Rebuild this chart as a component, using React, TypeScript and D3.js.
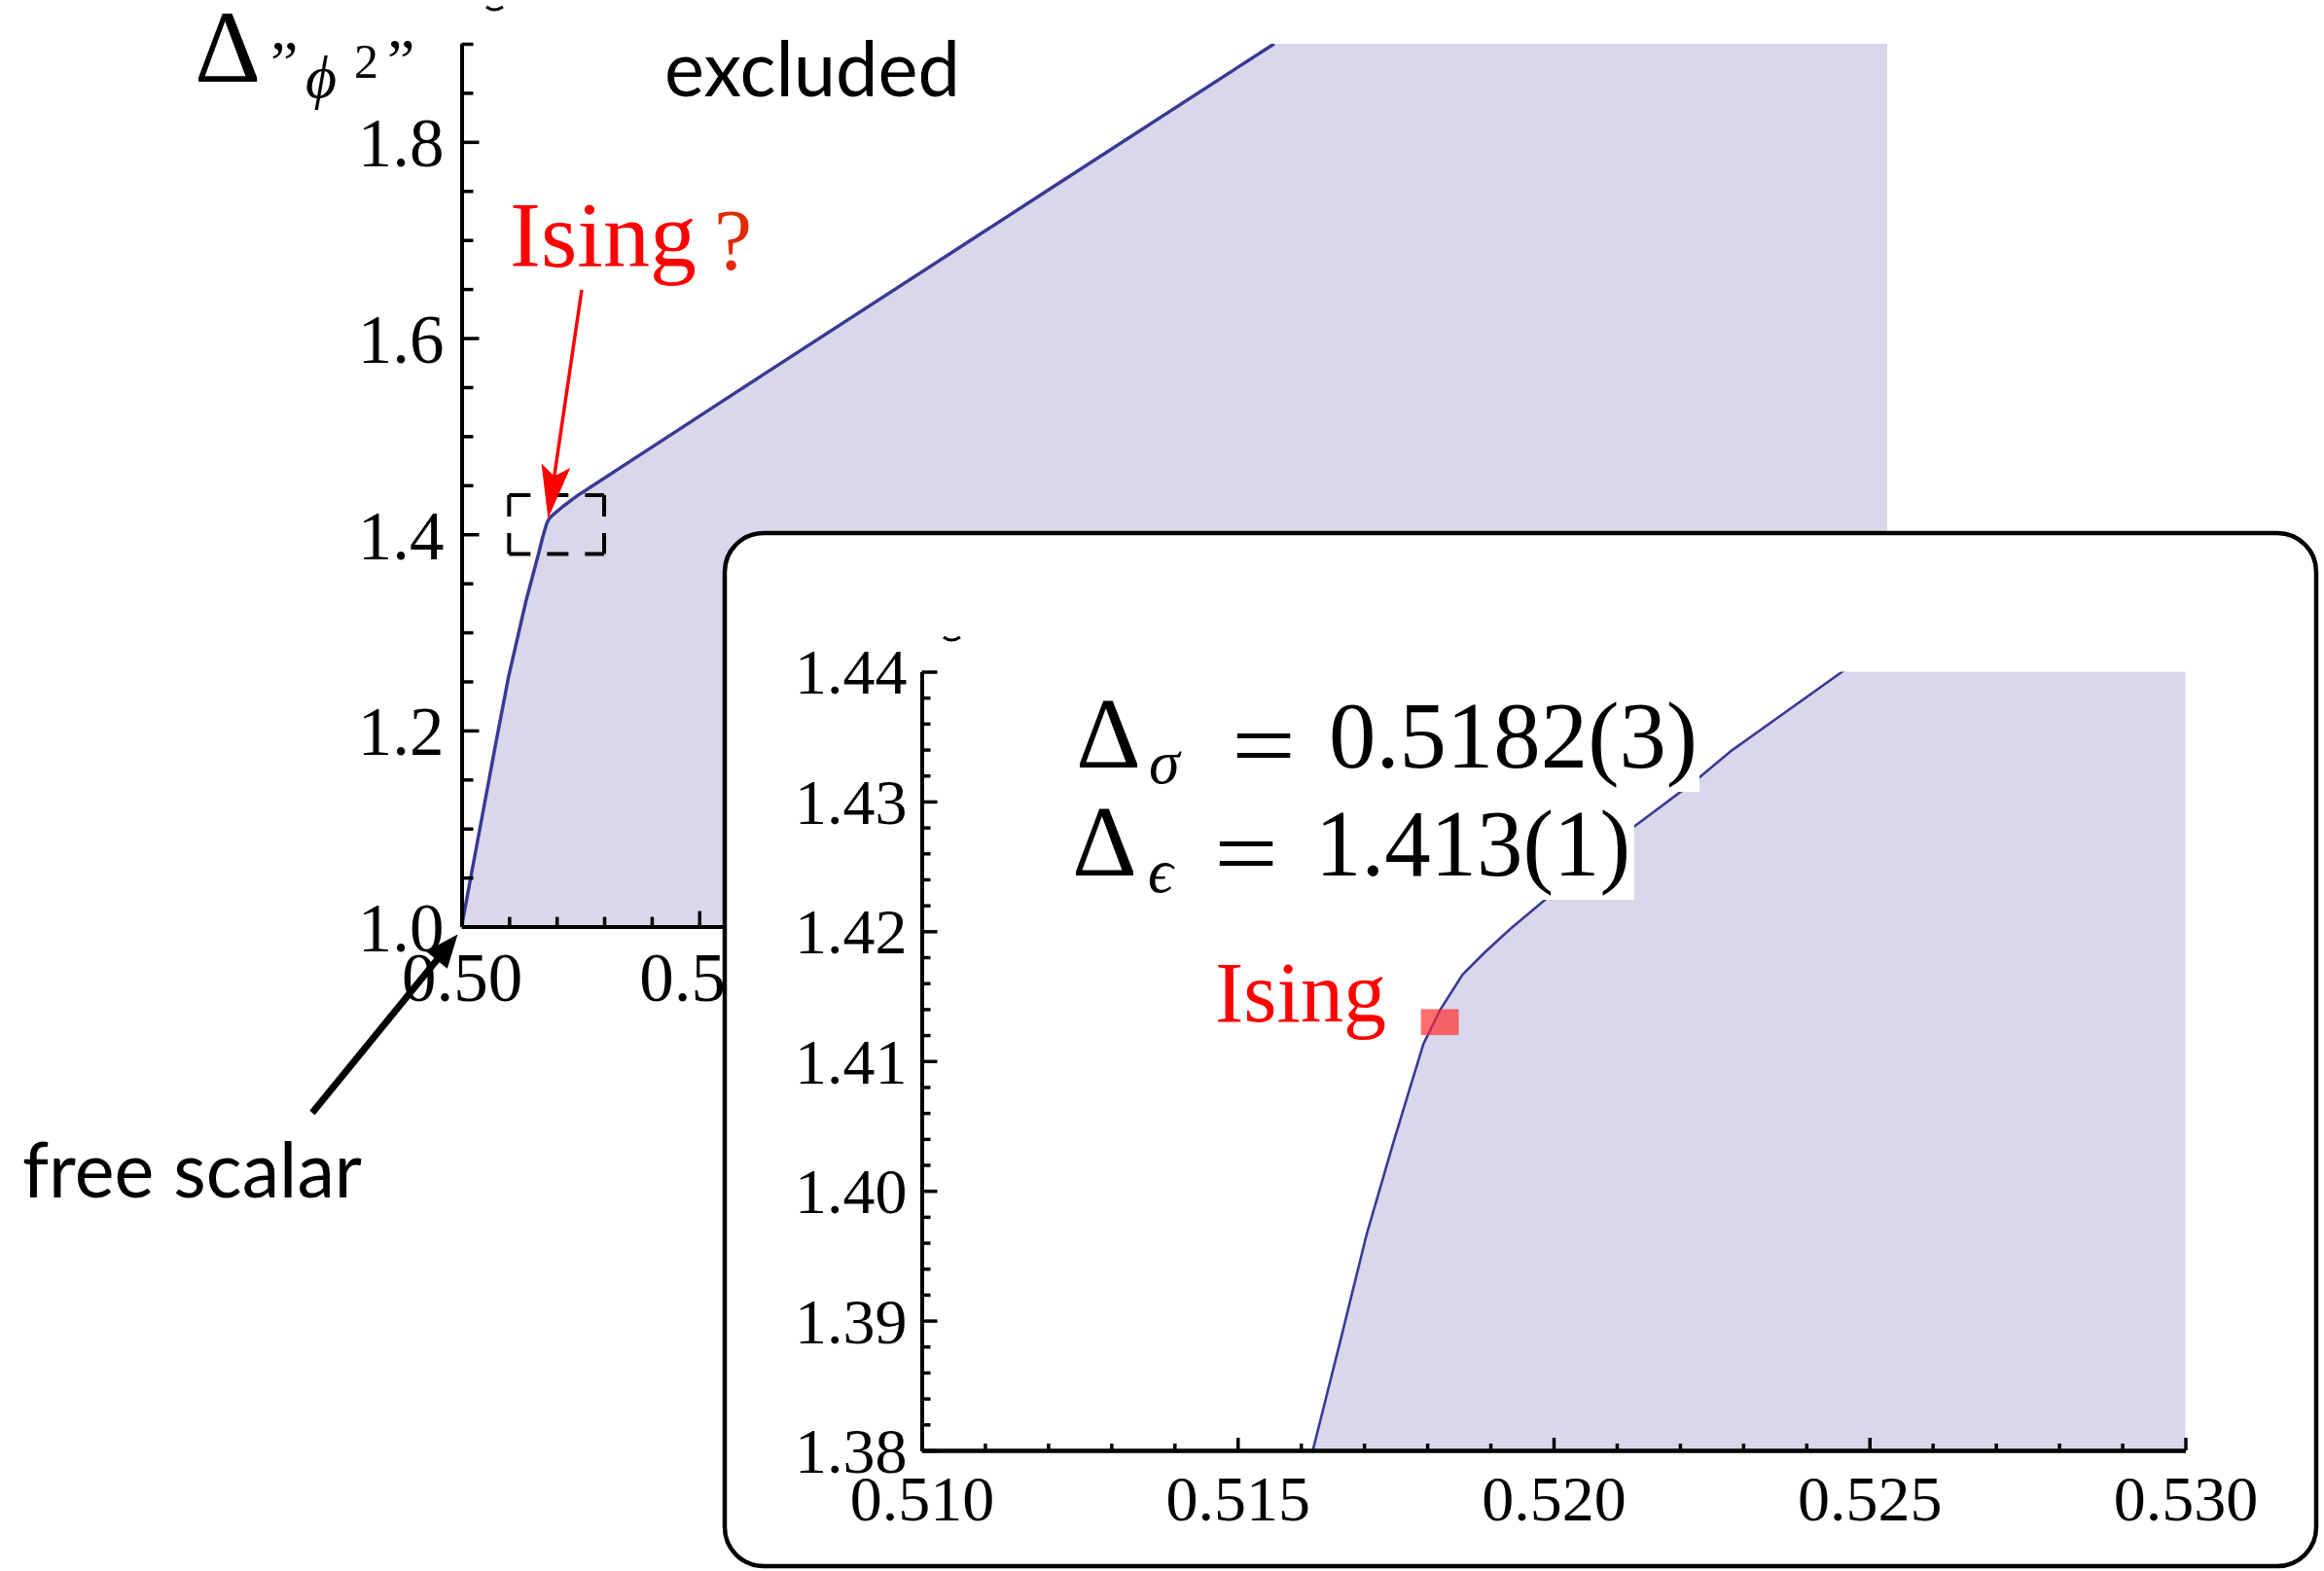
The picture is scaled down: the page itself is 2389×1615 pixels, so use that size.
import React, { useEffect, useRef } from 'react';
import * as d3 from 'd3';

// bootstrap bound in the (Δσ, Δε) plane
const boundarySigma = [0.5, 0.5025, 0.5073, 0.5099, 0.5135, 0.51619, 0.51662, 0.51704, 0.51746, 0.51773, 0.51794, 0.51821, 0.51856, 0.5189, 0.51931, 0.51986, 0.52126, 0.52227, 0.5228, 0.52457, 0.5634, 0.623, 0.671];
const boundaryEps = [1.0, 1.065, 1.1895, 1.255, 1.331, 1.38, 1.38833, 1.39661, 1.40363, 1.40797, 1.41131, 1.41398, 1.41666, 1.41832, 1.42016, 1.4224, 1.42801, 1.43169, 1.43386, 1.44, 1.5625, 1.7495, 1.9];

// Ising estimate with error bars
const isingSigma = 0.5182;
const isingSigmaErr = 0.0003;
const isingEps = 1.413;
const isingEpsErr = 0.001;

// main panel
const mainXDomain = [0.5, 0.8];
const mainYDomain = [1.0, 1.9];
const mainXMajor = [0.5, 0.55, 0.6, 0.65, 0.7, 0.75, 0.8];
const mainYMajor = [1.0, 1.2, 1.4, 1.6, 1.8];

// zoomed inset
const insetXDomain = [0.51, 0.53];
const insetYDomain = [1.38, 1.44];
const insetXMajor = [0.51, 0.515, 0.52, 0.525, 0.53];
const insetYMajor = [1.38, 1.39, 1.4, 1.41, 1.42, 1.43, 1.44];

const W = 2389;
const H = 1615;
const LINE = '#393996';
const FILL = '#d8d8ea';
const SERIF = 'Liberation Serif, Times New Roman, serif';
const SANS = 'Lato, Open Sans, sans-serif';

const notMajor = (majors: number[]) => (v: number) => !majors.some(m => Math.abs(m - v) < 1e-9);

const App: React.FC = () => {
  const svgRef = useRef<SVGSVGElement>(null);

  useEffect(() => {
    if (!svgRef.current) return;
    const svg = d3.select(svgRef.current);
    svg.selectAll('*').remove();

    const pts = boundarySigma.map((s, i) => [s, boundaryEps[i]] as [number, number]);
    const region = [...pts, [0.8, 1.9], [0.8, 1.0]] as [number, number][];

    const styleAxis = (g: any, fs: number) => {
      g.select('.domain').attr('stroke', '#000').attr('stroke-width', 4);
      g.selectAll('.tick line').attr('stroke', '#000').attr('stroke-width', 3.5);
      g.selectAll('text').attr('fill', '#000').style('font-family', SERIF).style('font-size', `${fs}px`);
    };

    const arrow = (x1: number, y1: number, x2: number, y2: number, color: string, sw: number, L: number, Wd: number, notch: number) => {
      const dx = x2 - x1, dy = y2 - y1;
      const len = Math.hypot(dx, dy);
      const ux = dx / len, uy = dy / len;
      const nx = -uy, ny = ux;
      svg.append('line')
        .attr('x1', x1).attr('y1', y1)
        .attr('x2', x2 - ux * L * 0.7).attr('y2', y2 - uy * L * 0.7)
        .attr('stroke', color).attr('stroke-width', sw);
      const bx = x2 - ux * L, by = y2 - uy * L;
      svg.append('path')
        .attr('d', `M${x2},${y2}L${bx + nx * Wd / 2},${by + ny * Wd / 2}L${x2 - ux * L * notch},${y2 - uy * L * notch}L${bx - nx * Wd / 2},${by - ny * Wd / 2}Z`)
        .attr('fill', color);
    };

    // ---------- main panel ----------
    const x = d3.scaleLinear().domain(mainXDomain).range([474.5, 1940]);
    const y = d3.scaleLinear().domain(mainYDomain).range([952.6, 45]);

    const defs = svg.append('defs');
    defs.append('clipPath').attr('id', 'clip-main').append('rect')
      .attr('x', x(0.5)).attr('y', y(1.9)).attr('width', x(0.8) - x(0.5)).attr('height', y(1.0) - y(1.9));

    const mainLine = d3.line<[number, number]>().x(d => x(d[0])).y(d => y(d[1]));
    const gMain = svg.append('g').attr('clip-path', 'url(#clip-main)');
    gMain.append('path').attr('d', mainLine(region) + 'Z').attr('fill', FILL);
    gMain.append('path').attr('d', mainLine(pts)).attr('fill', 'none').attr('stroke', LINE).attr('stroke-width', 3.5)
      .attr('stroke-linejoin', 'round');

    const mainYMinor = d3.range(1.0, 1.901, 0.05).filter(notMajor(mainYMajor));
    const mainXMinor = d3.range(0.5, 0.801, 0.01).filter(notMajor(mainXMajor));

    svg.append('g').attr('transform', `translate(${x(0.5)},0)`)
      .call(d3.axisLeft(y).tickValues(mainYMinor).tickSize(-12).tickSizeOuter(0).tickFormat(() => ''))
      .call(styleAxis, 71);
    svg.append('g').attr('transform', `translate(${x(0.5)},0)`)
      .call(d3.axisLeft(y).tickValues(mainYMajor).tickSize(-18).tickSizeOuter(0).tickPadding(18).tickFormat(d3.format('.1f')))
      .call(styleAxis, 71)
      .call((g: any) => g.selectAll('text').attr('dy', '0.35em'));

    svg.append('g').attr('transform', `translate(0,${y(1.0)})`)
      .call(d3.axisBottom(x).tickValues(mainXMinor).tickSize(-10).tickSizeOuter(0).tickFormat(() => ''))
      .call(styleAxis, 71);
    svg.append('g').attr('transform', `translate(0,${y(1.0)})`)
      .call(d3.axisBottom(x).tickValues(mainXMajor).tickSize(-16).tickSizeOuter(0).tickPadding(26).tickFormat(d3.format('.2f')))
      .call(styleAxis, 71);

    // dashed box marking the zoomed window
    const dash = svg.append('g').attr('fill', 'none').attr('stroke', '#000').attr('stroke-width', 4).attr('stroke-dasharray', '22 17');
    const [bx0, bx1] = insetXDomain.map(x);
    const [by0, by1] = insetYDomain.map(y);
    dash.append('line').attr('x1', bx0).attr('y1', by1).attr('x2', bx1).attr('y2', by1);
    dash.append('line').attr('x1', bx0).attr('y1', by0).attr('x2', bx1).attr('y2', by0);
    dash.append('line').attr('x1', bx0).attr('y1', by1).attr('x2', bx0).attr('y2', by0);
    dash.append('line').attr('x1', bx1).attr('y1', by1).attr('x2', bx1).attr('y2', by0);

    // y-axis label Δ"ϕ²"
    const lab = svg.append('g').style('font-family', SERIF).attr('fill', '#000');
    lab.append('text').attr('x', 200).attr('y', 84).style('font-size', '106px').text('Δ');
    lab.append('text').attr('x', 278).attr('y', 86).style('font-size', '64px').text('”');
    lab.append('text').attr('x', 314).attr('y', 100).style('font-size', '62px').style('font-style', 'italic').text('ϕ');
    lab.append('text').attr('x', 364).attr('y', 80).style('font-size', '50px').text('2');
    lab.append('text').attr('x', 398).attr('y', 84).style('font-size', '64px').text('”');

    svg.append('path').attr('d', 'M500,7 Q508,13 517,7').attr('fill', 'none').attr('stroke', '#000').attr('stroke-width', 3);

    svg.append('text').attr('x', 683).attr('y', 99)
      .style('font-family', SANS).style('font-size', '80px')
      .attr('textLength', 304).attr('lengthAdjust', 'spacingAndGlyphs')
      .attr('fill', '#000').text('excluded');

    svg.append('text').attr('x', 23).attr('y', 1231)
      .style('font-family', SANS).style('font-size', '80px')
      .attr('textLength', 349).attr('lengthAdjust', 'spacingAndGlyphs')
      .attr('fill', '#000').text('free scalar');

    svg.append('text').attr('x', 524).attr('y', 274)
      .style('font-family', SERIF).style('font-size', '96px').attr('fill', '#ff0000').text('Ising');
    svg.append('text').attr('x', 734).attr('y', 276)
      .style('font-family', SERIF).style('font-size', '88px').attr('fill', '#e02a00').text('?');

    arrow(598, 298, x(isingSigma), y(isingEps) - 3, '#ff0000', 3.5, 55, 30, 0.8);
    arrow(321, 1144, x(0.5) - 4, y(1.0) + 8, '#000', 7, 34, 28, 1);

    // ---------- inset ----------
    svg.append('rect')
      .attr('x', 745).attr('y', 548).attr('width', 1636).attr('height', 1062).attr('rx', 40)
      .attr('fill', '#fff').attr('stroke', '#000').attr('stroke-width', 4.5);

    const xi = d3.scaleLinear().domain(insetXDomain).range([947.5, 2246.5]);
    const yi = d3.scaleLinear().domain(insetYDomain).range([1491, 690.5]);

    defs.append('clipPath').attr('id', 'clip-inset').append('rect')
      .attr('x', xi(0.51)).attr('y', yi(1.44)).attr('width', xi(0.53) - xi(0.51)).attr('height', yi(1.38) - yi(1.44));

    const insetLine = d3.line<[number, number]>().x(d => xi(d[0])).y(d => yi(d[1]));
    const gIn = svg.append('g').attr('clip-path', 'url(#clip-inset)');
    gIn.append('path').attr('d', insetLine(region) + 'Z').attr('fill', FILL);
    gIn.append('path').attr('d', insetLine(pts)).attr('fill', 'none').attr('stroke', LINE).attr('stroke-width', 2.6)
      .attr('stroke-linejoin', 'round');

    // Ising error box
    svg.append('rect')
      .attr('x', xi(isingSigma - isingSigmaErr)).attr('y', yi(isingEps + isingEpsErr))
      .attr('width', xi(isingSigma + isingSigmaErr) - xi(isingSigma - isingSigmaErr))
      .attr('height', yi(isingEps - isingEpsErr) - yi(isingEps + isingEpsErr))
      .attr('fill', '#ff2a2a').attr('opacity', 0.68);

    svg.append('text').attr('x', 1249).attr('y', 1050)
      .style('font-family', SERIF).style('font-size', '88px').attr('fill', '#ff0000').text('Ising');

    // formula patches
    svg.append('rect').attr('x', 1105).attr('y', 712).attr('width', 642).attr('height', 102).attr('fill', '#fff');
    svg.append('rect').attr('x', 1100).attr('y', 826).attr('width', 580).attr('height', 99).attr('fill', '#fff');
    const f = svg.append('g').style('font-family', SERIF).attr('fill', '#000');
    f.append('text').attr('x', 1106).attr('y', 789).style('font-size', '104px').text('Δ');
    f.append('text').attr('x', 1181).attr('y', 805).style('font-size', '64px').style('font-style', 'italic').text('σ');
    f.append('text').attr('x', 1266).attr('y', 800).style('font-size', '100px')
      .attr('textLength', 66).attr('lengthAdjust', 'spacingAndGlyphs').text('=');
    f.append('text').attr('x', 1366).attr('y', 789).style('font-size', '97px')
      .attr('textLength', 379).attr('lengthAdjust', 'spacingAndGlyphs').text('0.5182(3)');
    f.append('text').attr('x', 1102).attr('y', 900).style('font-size', '104px').text('Δ');
    f.append('text').attr('x', 1180).attr('y', 917).style('font-size', '64px').style('font-style', 'italic').text('ϵ');
    f.append('text').attr('x', 1248).attr('y', 911).style('font-size', '100px')
      .attr('textLength', 66).attr('lengthAdjust', 'spacingAndGlyphs').text('=');
    f.append('text').attr('x', 1352).attr('y', 900).style('font-size', '97px')
      .attr('textLength', 324).attr('lengthAdjust', 'spacingAndGlyphs').text('1.413(1)');

    const insetXMinor = d3.range(0.51, 0.5301, 0.001).filter(notMajor(insetXMajor));
    const insetYMinor = d3.range(1.38, 1.4401, 0.002).filter(notMajor(insetYMajor));

    svg.append('g').attr('transform', `translate(${xi(0.51)},0)`)
      .call(d3.axisLeft(yi).tickValues(insetYMinor).tickSize(-9).tickSizeOuter(0).tickFormat(() => ''))
      .call(styleAxis, 66);
    svg.append('g').attr('transform', `translate(${xi(0.51)},0)`)
      .call(d3.axisLeft(yi).tickValues(insetYMajor).tickSize(-16).tickSizeOuter(0).tickPadding(15).tickFormat(d3.format('.2f')))
      .call(styleAxis, 66)
      .call((g: any) => g.selectAll('text').attr('dy', '0.34em'));

    svg.append('g').attr('transform', `translate(0,${yi(1.38)})`)
      .call(d3.axisBottom(xi).tickValues(insetXMinor).tickSize(-7).tickSizeOuter(0).tickFormat(() => ''))
      .call(styleAxis, 66);
    svg.append('g').attr('transform', `translate(0,${yi(1.38)})`)
      .call(d3.axisBottom(xi).tickValues(insetXMajor).tickSize(-13).tickSizeOuter(0).tickPadding(25).tickFormat(d3.format('.3f')))
      .call(styleAxis, 66);

    svg.append('path').attr('d', 'M970,655 Q978,661 987,655').attr('fill', 'none').attr('stroke', '#000').attr('stroke-width', 3);
  }, []);

  return (
    <div style={{ position: 'absolute', left: 0, top: 0 }}>
      <svg ref={svgRef} width={W} height={H} style={{ display: 'block', background: '#fff' }} />
    </div>
  );
};

export default App;
